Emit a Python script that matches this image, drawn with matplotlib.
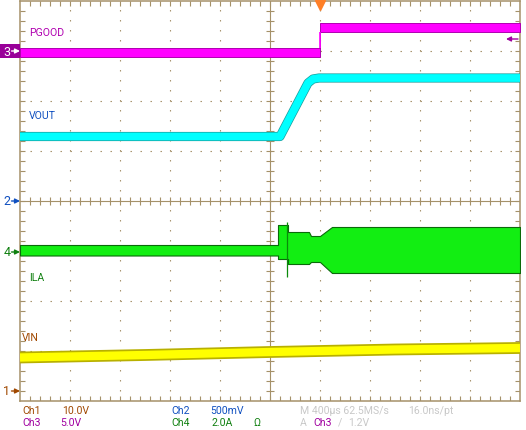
import numpy as np
import matplotlib
matplotlib.use("Agg")
import matplotlib.pyplot as plt

W, H = 526, 431

# ---- data, in screen divisions (x 0..10, y -4..4, 0 = centre) ----
pg_t = [0.0, 6.0, 6.0, 10.0]
pg_lo = [2.88, 2.88, 3.38, 3.38]
pg_hi = [3.06, 3.06, 3.57, 3.57]

vout_t = [0.0, 5.20, 5.76, 5.86, 5.98, 10.0]
vout_v = [1.29, 1.29, 2.36, 2.44, 2.46, 2.46]

ila_t = [0.0, 5.16, 5.16, 5.36, 5.36, 5.78, 5.82, 6.00, 6.24, 10.0]
ila_top = [-0.88, -0.88, -0.48, -0.48, -0.62, -0.62, -0.70, -0.70, -0.52, -0.52]
ila_bot = [-1.09, -1.09, -1.16, -1.16, -1.26, -1.26, -1.22, -1.22, -1.44, -1.44]
spike_t = 5.34
spike_lo, spike_hi = -1.52, -0.41

vin_t = [0.0, 2.5, 5.0, 7.5, 10.0]
vin_v = [-3.13, -3.08, -3.02, -2.97, -2.94]

trig_t = 6.0
markers = [("3", 3.0, "#990099"), ("2", 0.0, "#1050C0"), ("4", -1.02, "#108010"), ("1", -3.8, "#A04800")]

GRID = "#A59169"
plt.rcParams["font.family"] = ["Roboto", "DejaVu Sans"]

fig = plt.figure(figsize=(W / 100, H / 100), dpi=100)
fig.patch.set_facecolor("white")
ax = fig.add_axes([20 / W, 1 - 402 / H, 500 / W, 400 / H])
ax.set_xlim(0, 10)
ax.set_ylim(-4, 4)
ax.set_xticks([])
ax.set_yticks([])
for s in ax.spines.values():
    s.set_color(GRID)
    s.set_linewidth(1.1)

# dotted graticule
for k in range(1, 10):
    if k != 5:
        ax.axvline(k, color=GRID, lw=0.8, ls=(0, (1.3, 7.7)), zorder=1)
for k in range(-3, 4):
    if k != 0:
        ax.axhline(k, color=GRID, lw=0.8, ls=(0, (1.3, 7.7)), zorder=1)
ax.axvline(5, color=GRID, lw=0.8, zorder=1)
ax.axhline(0, color=GRID, lw=0.8, zorder=1)
xt = np.arange(0.2, 10, 0.2)
yt = np.arange(-3.8, 4, 0.2)
ax.vlines(xt, -0.08, 0.08, color=GRID, lw=0.8, zorder=1)
ax.hlines(yt, 4.92, 5.08, color=GRID, lw=0.8, zorder=1)
ax.vlines(xt, 3.9, 4.0, color=GRID, lw=0.8, zorder=1)
ax.vlines(xt, -4.0, -3.9, color=GRID, lw=0.8, zorder=1)
ax.hlines(yt, 0, 0.1, color=GRID, lw=0.8, zorder=1)
ax.hlines(yt, 9.9, 10, color=GRID, lw=0.8, zorder=1)

# traces
ax.fill_between(pg_t, pg_lo, pg_hi, facecolor="#FF00FF", edgecolor="#B000B0", lw=0.7, zorder=3)
ax.vlines(trig_t, pg_hi[0], pg_lo[-1], color="#FF00FF", lw=1.2, zorder=3)

ax.plot(vout_t, vout_v, color="#1A9A9A", lw=6.6, solid_capstyle="butt", zorder=3)
ax.plot(vout_t, vout_v, color="#00FFFF", lw=5.6, solid_capstyle="butt", zorder=3)

ax.fill_between(ila_t, ila_bot, ila_top, facecolor="#12EE12", edgecolor="#0A6A0A", lw=0.8, zorder=3)
ax.vlines(spike_t, spike_lo, spike_hi, color="#0A8A0A", lw=0.9, zorder=3)

ax.plot(vin_t, vin_v, color="#B8B000", lw=8.5, solid_capstyle="butt", zorder=3)
ax.plot(vin_t, vin_v, color="#FFFF00", lw=6.0, solid_capstyle="butt", zorder=3)

# trigger marker
ax.plot([trig_t], [3.93], marker="v", ms=7, color="#FF7F27", clip_on=False, zorder=5)

# channel markers on the left
for lab, yv, col in markers:
    if lab == "3":
        ax.add_patch(plt.Rectangle((-0.4, yv - 0.135), 0.4, 0.27, facecolor=col,
                                   edgecolor="none", clip_on=False, zorder=5))
        tc = "white"
    else:
        tc = col
    ax.text(-0.26, yv, lab, color=tc, ha="center", va="center", fontsize=9, clip_on=False, zorder=6)
    ax.annotate("", xy=(0.0, yv), xytext=(-0.17, yv),
                arrowprops=dict(arrowstyle="-|>", color=tc, lw=1.0, mutation_scale=7,
                                shrinkA=0, shrinkB=0), annotation_clip=False, zorder=6)
# PGOOD level arrow on the right
ax.annotate("", xy=(9.72, 3.24), xytext=(9.96, 3.24),
            arrowprops=dict(arrowstyle="-|>", color="#A000A0", lw=1.0, mutation_scale=7,
                            shrinkA=0, shrinkB=0), zorder=6)


def T(x, y, s, color, **kw):
    fig.text(x / W, 1 - y / H, s, color=color, ha="left", va="center", fontsize=7.6, **kw)


# in-plot labels
T(29, 33, "PGOOD", "#B000B0")
T(29, 116, "VOUT", "#1050C0")
T(29, 278, "ILA", "#108010")
T(22, 338, "VIN", "#A04800")

# bottom readout
T(22, 411, "Ch1", "#A04800")
T(62, 411, "10.0V", "#A04800")
T(171, 411, "Ch2", "#1050C0")
T(210, 411, "500mV", "#1050C0")
T(22, 423, "Ch3", "#A000A0")
T(60, 423, "5.0V", "#A000A0")
T(171, 423, "Ch4", "#108010")
T(211, 423, "2.0A", "#108010")
T(253, 423, "Ω", "#108010")
T(300, 411, "M 400μs 62.5MS/s", "#C8C8C8")
T(408, 411, "16.0ns/pt", "#C8C8C8")
T(300, 423, "A", "#C8C8C8")
T(313, 423, "Ch3", "#A000A0")
T(338, 423, "/", "#C8C8C8")
T(348, 423, "1.2V", "#C8C8C8")

fig.savefig("out.png", dpi=100, facecolor="white")
